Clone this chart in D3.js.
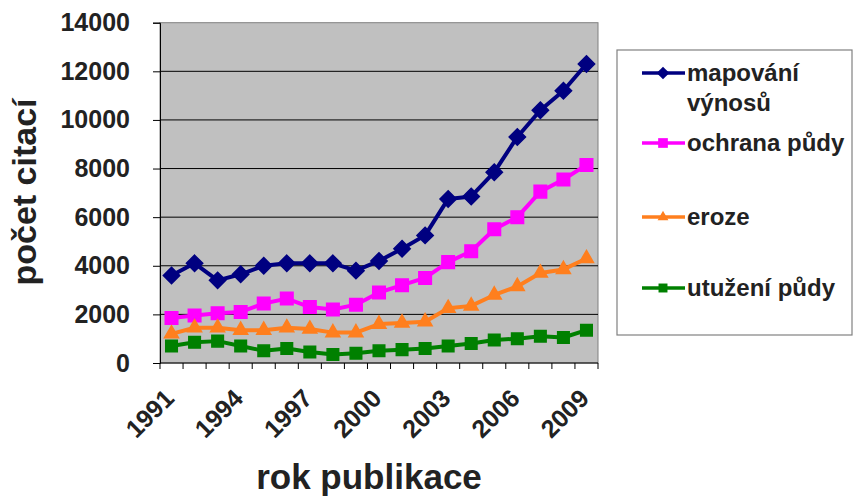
<!DOCTYPE html>
<html>
<head>
<meta charset="utf-8">
<script src="https://cdn.jsdelivr.net/npm/d3@7"></script>
<style>
  html, body { margin: 0; padding: 0; background: #fff; }
  svg { display: block; font-family: "Liberation Sans", Arial, sans-serif; }
</style>
</head>
<body>
<svg id="chart" width="854" height="497"></svg>
<script>
// Citation counts per publication year
const years = d3.range(1991, 2010);
const yTicks = [0, 2000, 4000, 6000, 8000, 10000, 12000, 14000];
const labelYears = [1991, 1994, 1997, 2000, 2003, 2006, 2009];

const mapovani = [3600, 4100, 3400, 3650, 4000, 4100, 4100, 4100, 3800, 4200, 4700, 5250, 6750, 6850, 7850, 9300, 10400, 11200, 12300];
const ochrana  = [1850, 1950, 2050, 2100, 2450, 2650, 2300, 2200, 2400, 2900, 3200, 3500, 4150, 4600, 5500, 6000, 7050, 7550, 8150];
const eroze    = [1200, 1450, 1450, 1350, 1350, 1450, 1400, 1250, 1250, 1600, 1650, 1700, 2250, 2350, 2800, 3150, 3700, 3850, 4300];
const utuzeni  = [700, 850, 900, 700, 500, 600, 450, 350, 400, 500, 550, 600, 700, 800, 950, 1000, 1100, 1050, 1350];

const series = [
  { name: ["mapování", "výnosů"], values: mapovani, color: "#000080", symbol: d3.symbolDiamond2, size: 170, legendY: 73 },
  { name: ["ochrana půdy"], values: ochrana, color: "#FF00FF", symbol: d3.symbolSquare2, size: 200, legendY: 143 },
  { name: ["eroze"], values: eroze, color: "#FF7F1E", symbol: d3.symbolTriangle2, size: 140, legendY: 217 },
  { name: ["utužení půdy"], values: utuzeni, color: "#008000", symbol: d3.symbolSquare2, size: 170, legendY: 288 }
];

const svg = d3.select("#chart");
const plot = { left: 160, right: 598, top: 22.7, bottom: 363 };

const x = d3.scaleBand().domain(years).range([plot.left, plot.right]);
const y = d3.scaleLinear().domain([0, 14000]).range([plot.bottom, plot.top]);

// plot area background
svg.append("rect")
  .attr("x", plot.left).attr("y", plot.top)
  .attr("width", plot.right - plot.left).attr("height", plot.bottom - plot.top)
  .attr("fill", "#C0C0C0").attr("stroke", "#808080").attr("stroke-width", 1);

// horizontal gridlines
svg.append("g").selectAll("line")
  .data(yTicks.filter(t => t > 0 && t < 14000))
  .join("line")
  .attr("x1", plot.left).attr("x2", plot.right)
  .attr("y1", d => y(d)).attr("y2", d => y(d))
  .attr("stroke", "#000").attr("stroke-width", 1);

// y axis
const yAxis = svg.append("g")
  .attr("transform", `translate(${plot.left},0)`)
  .call(d3.axisLeft(y).tickValues(yTicks).tickSize(7).tickPadding(23).tickFormat(d3.format("d")));
yAxis.select(".domain").attr("stroke", "#000");
yAxis.selectAll(".tick line").attr("stroke", "#000");
yAxis.selectAll("text")
  .attr("font-size", 25).attr("font-weight", "bold").attr("fill", "#222")
  .attr("font-family", "Liberation Sans, Arial, sans-serif");

// x axis: boundaries between categories carry the tick marks
const bounds = years.map(yr => x(yr)).concat([plot.right]);
const xAxis = svg.append("g");
xAxis.append("line")
  .attr("x1", plot.left).attr("x2", plot.right)
  .attr("y1", plot.bottom).attr("y2", plot.bottom)
  .attr("stroke", "#000");
xAxis.selectAll("line.tick")
  .data(bounds)
  .join("line").attr("class", "tick")
  .attr("x1", d => d).attr("x2", d => d)
  .attr("y1", plot.bottom).attr("y2", plot.bottom + 6)
  .attr("stroke", "#000");
xAxis.selectAll("text")
  .data(labelYears)
  .join("text")
  .attr("transform", d => `translate(${x(d) + x.bandwidth() / 2 + 4},400) rotate(-45)`)
  .attr("text-anchor", "end")
  .attr("font-size", 25).attr("font-weight", "bold").attr("fill", "#222")
  .text(d => d);

// series lines and markers
const line = d3.line()
  .x((d, i) => x(years[i]) + x.bandwidth() / 2)
  .y(d => y(d));

series.forEach(s => {
  const g = svg.append("g");
  g.append("path")
    .datum(s.values)
    .attr("d", line)
    .attr("fill", "none")
    .attr("stroke", s.color)
    .attr("stroke-width", 4)
    .attr("stroke-linejoin", "round");
  g.selectAll("path.pt")
    .data(s.values)
    .join("path").attr("class", "pt")
    .attr("transform", (d, i) => `translate(${x(years[i]) + x.bandwidth() / 2},${y(d)})`)
    .attr("d", d3.symbol(s.symbol, s.size))
    .attr("fill", s.color)
    .attr("stroke", s.color)
    .attr("stroke-width", 1.5);
});

// axis titles
svg.append("text")
  .attr("transform", "translate(36,192) rotate(-90)")
  .attr("text-anchor", "middle")
  .attr("font-size", 34).attr("font-weight", "bold").attr("fill", "#222")
  .text("počet citací");

svg.append("text")
  .attr("x", 369).attr("y", 489)
  .attr("text-anchor", "middle")
  .attr("font-size", 35).attr("font-weight", "bold").attr("fill", "#222")
  .text("rok publikace");

// legend
const legend = svg.append("g");
legend.append("rect")
  .attr("x", 617).attr("y", 50).attr("width", 235).attr("height", 285)
  .attr("fill", "#fff").attr("stroke", "#808080").attr("stroke-width", 1.2);

series.forEach(s => {
  const row = legend.append("g");
  row.append("line")
    .attr("x1", 642).attr("x2", 685)
    .attr("y1", s.legendY).attr("y2", s.legendY)
    .attr("stroke", s.color).attr("stroke-width", 3.5);
  row.append("path")
    .attr("transform", `translate(663,${s.legendY})`)
    .attr("d", d3.symbol(s.symbol, s.size * 0.6))
    .attr("fill", s.color);
  const t = row.append("text")
    .attr("x", 687).attr("y", s.legendY)
    .attr("font-size", 24).attr("font-weight", "bold").attr("fill", "#222");
  s.name.forEach((part, i) => {
    t.append("tspan")
      .attr("x", 687)
      .attr("dy", i === 0 ? "0.35em" : "1.25em")
      .text(part);
  });
});
</script>
</body>
</html>
